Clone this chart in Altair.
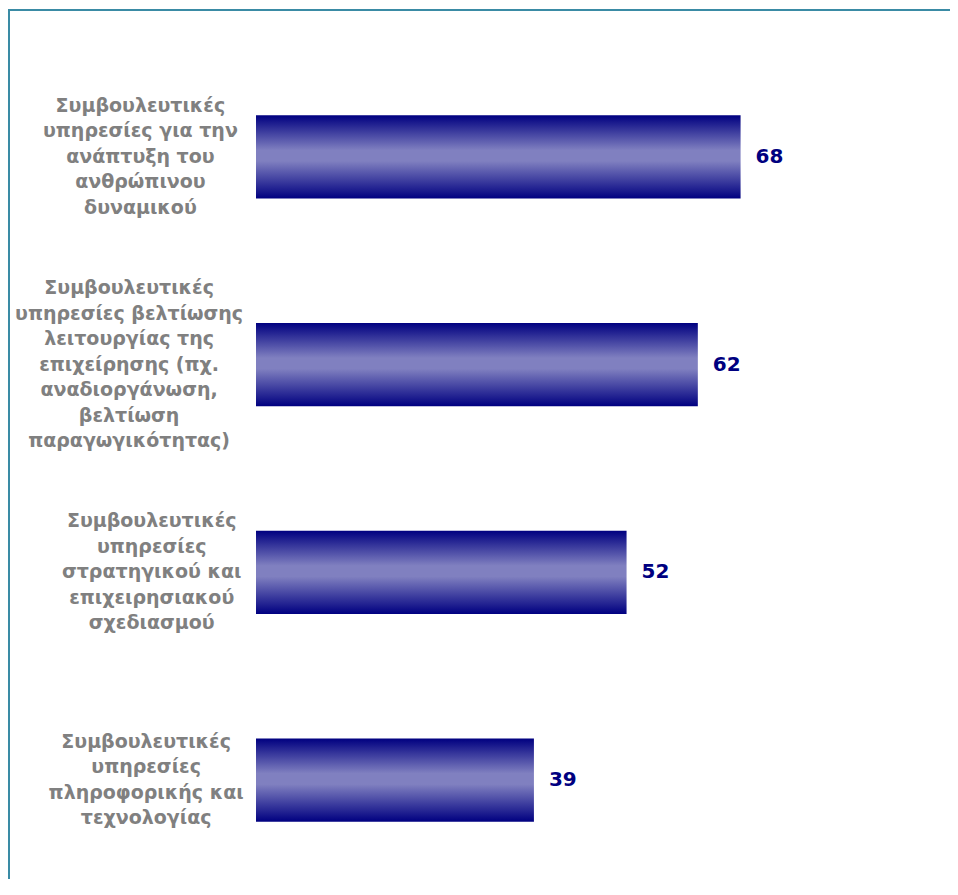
import altair as alt
import pandas as pd

# ---- data ----
label_lines = [
    ["Συμβουλευτικές", "υπηρεσίες για την", "ανάπτυξη του", "ανθρώπινου", "δυναμικού"],
    ["Συμβουλευτικές", "υπηρεσίες βελτίωσης", "λειτουργίας της", "επιχείρησης (πχ.",
     "αναδιοργάνωση,", "βελτίωση", "παραγωγικότητας)"],
    ["Συμβουλευτικές", "υπηρεσίες", "στρατηγικού και", "επιχειρησιακού", "σχεδιασμού"],
    ["Συμβουλευτικές", "υπηρεσίες", "πληροφορικής και", "τεχνολογίας"],
]
values = [68, 62, 52, 39]

categories = ["|".join(lines) for lines in label_lines]
df = pd.DataFrame({"category": categories, "value": values})

NAVY = "#000080"
LAVENDER = "#8080c0"
GRAY = "#808080"
FRAME = "#3a8ba5"
FONT = "DejaVu Sans"
LINE_H = 25.5
CHAR_W = 11.3      # approx. width of one label character (px)
RIGHT_GAP = 20     # gap between the widest label line and the bars

W, H = 677, 826
Y_RANGE = 831
PAD = {"left": 248, "top": 45, "right": 17, "bottom": 0}

# each label block sits right-aligned next to the axis, its lines centred
cat_list = "[" + ",".join("'%s'" % c for c in categories) + "]"
pad_list = "[" + ",".join(
    "%.1f" % (RIGHT_GAP + max(len(s) for s in lines) * CHAR_W / 2) for lines in label_lines
) + "]"
label_padding_expr = "%s[indexof(%s, datum.value)]" % (pad_list, cat_list)
label_offset_expr = "-(length(split(datum.value, '|')) - 1) * %s / 2" % LINE_H

gradient = alt.Gradient(
    gradient="linear",
    x1=0, y1=0, x2=0, y2=1,
    stops=[
        alt.GradientStop(color=NAVY, offset=0),
        alt.GradientStop(color=LAVENDER, offset=0.42),
        alt.GradientStop(color=LAVENDER, offset=0.55),
        alt.GradientStop(color=NAVY, offset=1),
    ],
)

y_scale = alt.Scale(paddingInner=0.6, paddingOuter=0.3, range=[0, Y_RANGE])

y_enc = alt.Y(
    "category:N",
    sort=categories,
    title=None,
    scale=y_scale,
    axis=alt.Axis(
        ticks=False,
        domain=False,
        grid=False,
        labelAlign="center",
        labelBaseline="middle",
        labelPadding={"expr": label_padding_expr},
        labelOffset={"expr": label_offset_expr},
        labelFont=FONT,
        labelFontWeight="bold",
        labelFontSize=19,
        labelColor=GRAY,
        labelLineHeight=LINE_H,
        labelLimit=400,
        labelOverlap=False,
        labelExpr="split(datum.label, '|')",
    ),
)
x_enc = alt.X("value:Q", scale=alt.Scale(domain=[0, 95], nice=False), axis=None)

base = alt.Chart(df)

bars = base.mark_bar(color=gradient).encode(x=x_enc, y=y_enc)

texts = base.mark_text(
    align="left", baseline="middle", dx=15,
    font=FONT, fontWeight="bold", fontSize=20, color=NAVY,
).encode(x=x_enc, y=alt.Y("category:N", sort=categories, scale=y_scale), text="value:Q")

left_rule = alt.Chart(alt.Data(values=[{}])).mark_rule(color=FRAME, strokeWidth=2).encode(
    x=alt.value(-247), y=alt.value(-43), y2=alt.value(H + PAD["bottom"])
)
top_rule = alt.Chart(alt.Data(values=[{}])).mark_rule(color=FRAME, strokeWidth=2).encode(
    x=alt.value(-248), x2=alt.value(W + PAD["right"]), y=alt.value(-43)
)

chart = alt.layer(bars, texts, left_rule, top_rule).properties(
    width=W, height=H, padding=PAD, autosize=alt.AutoSizeParams(type="none"),
).configure(background="white").configure_view(stroke=None)

chart.save("out.html", embed_options={"renderer": "svg", "actions": False})
